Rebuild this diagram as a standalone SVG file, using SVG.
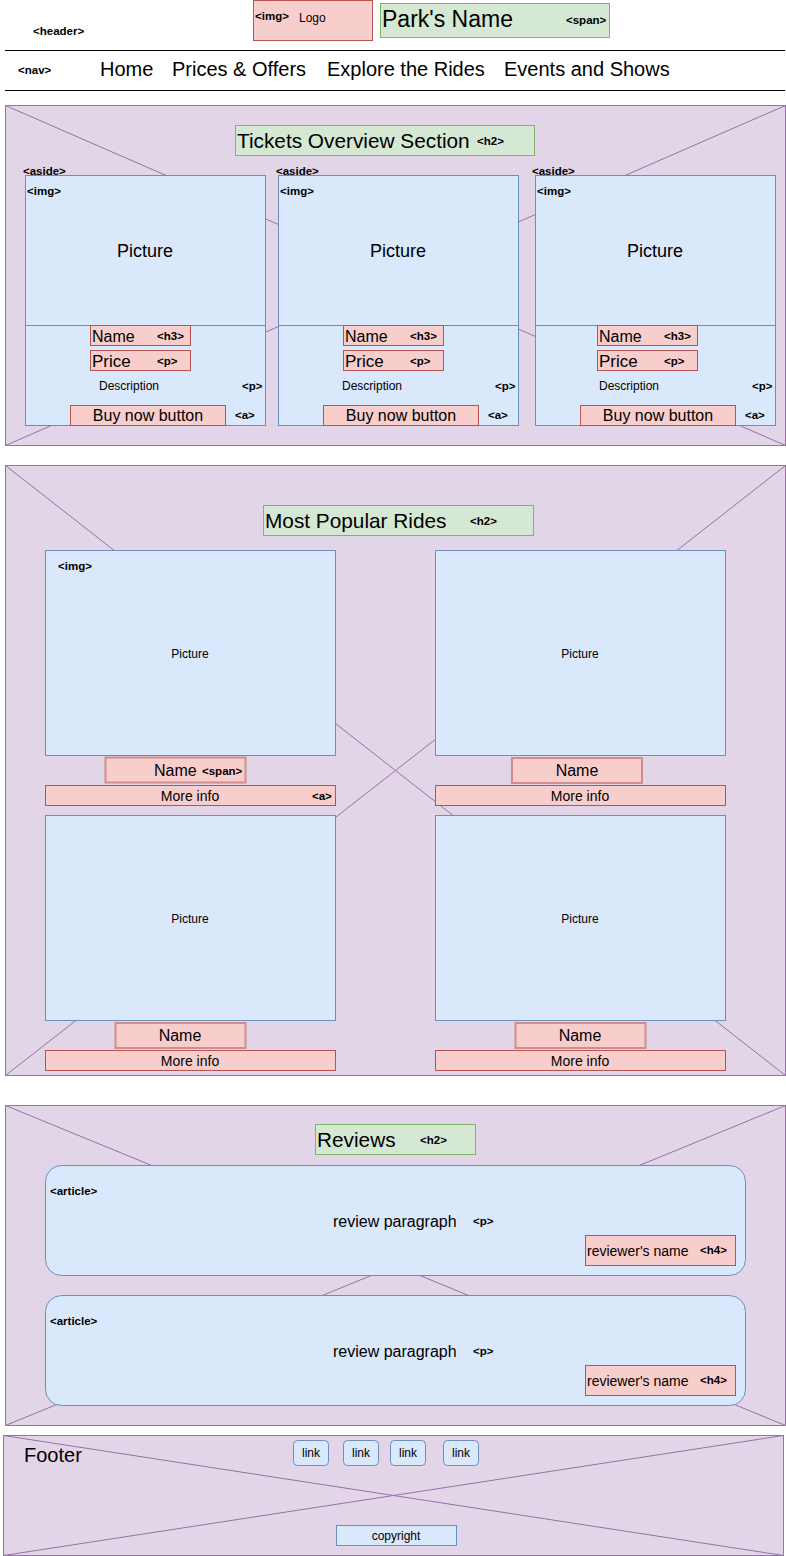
<svg xmlns="http://www.w3.org/2000/svg" width="786" height="1556" viewBox="0 0 786 1556">
<style>
text{font-family:"Liberation Sans",Arial,sans-serif;fill:#000;dominant-baseline:central}
.tag{font-size:11.5px;font-weight:bold}
.sec{fill:#e1d5e7;stroke:#9673a6;stroke-width:1}
.x{stroke:#9673a6;stroke-width:1;fill:none}
.blue{fill:#dae8fc;stroke:#6c8ebf;stroke-width:1}
.red{fill:#f8cecc;stroke:#b85450;stroke-width:1}
.red2{fill:#f8cecc;stroke:#cf8e8b;stroke-width:2}
.green{fill:#d5e8d4;stroke:#82b366;stroke-width:1}
.mid{text-anchor:middle}
.rule{stroke:#000;stroke-width:1}
</style>
<rect width="786" height="1556" fill="#fff"/>

<g id="header">
  <text class="tag" x="33" y="31">&lt;header&gt;</text>
  <g id="logo">
    <rect class="red" x="253.5" y="0.5" width="119" height="40"/>
    <text class="tag" x="255" y="16">&lt;img&gt;</text>
    <text x="299" y="18" font-size="12">Logo</text>
  </g>
  <g id="park-name">
    <rect class="green" x="380.5" y="3.5" width="229" height="34"/>
    <text x="382" y="19" font-size="23">Park's Name</text>
    <text class="tag" x="566" y="20">&lt;span&gt;</text>
  </g>
  <line class="rule" x1="5" y1="50.5" x2="785" y2="50.5"/>
  <line class="rule" x1="5" y1="90.5" x2="785" y2="90.5"/>
</g>

<g id="nav">
  <text class="tag" x="18" y="70">&lt;nav&gt;</text>
  <text x="100" y="69" font-size="20">Home</text>
  <text x="172" y="69" font-size="20">Prices &amp; Offers</text>
  <text x="327" y="69" font-size="20">Explore the Rides</text>
  <text x="504" y="69" font-size="20">Events and Shows</text>
</g>

<g id="tickets-section">
  <rect class="sec" x="5.5" y="105.5" width="780" height="340"/>
  <g class="x"><line x1="5.5" y1="105.5" x2="785.5" y2="445.5"/><line x1="785.5" y1="105.5" x2="5.5" y2="445.5"/></g>
  <g id="tickets-title">
    <rect class="green" x="235.5" y="125.5" width="299" height="30"/>
    <text x="237" y="140" font-size="20.8">Tickets Overview Section</text>
    <text class="tag" x="477" y="141">&lt;h2&gt;</text>
  </g>
  <g id="ticket-card-1">
    <text class="tag" x="23" y="171">&lt;aside&gt;</text>
    <rect class="blue" x="25.5" y="175.5" width="240" height="150"/>
    <rect class="blue" x="25.5" y="325.5" width="240" height="100"/>
    <text class="tag" x="27" y="191">&lt;img&gt;</text>
    <text class="mid" x="145" y="251" font-size="18">Picture</text>
    <rect class="red" x="90.5" y="325.5" width="100" height="20"/>
    <text x="92" y="336" font-size="16">Name</text><text class="tag" x="157" y="336">&lt;h3&gt;</text>
    <rect class="red" x="90.5" y="350.5" width="100" height="20"/>
    <text x="92" y="361" font-size="17">Price</text><text class="tag" x="157" y="361">&lt;p&gt;</text>
    <text x="99" y="386" font-size="12">Description</text><text class="tag" x="242" y="386">&lt;p&gt;</text>
    <rect class="red" x="70.5" y="405.5" width="155" height="20"/>
    <text class="mid" x="148" y="415" font-size="16">Buy now button</text><text class="tag" x="235" y="415">&lt;a&gt;</text>
  </g>
  <g id="ticket-card-2">
    <text class="tag" x="276" y="171">&lt;aside&gt;</text>
    <rect class="blue" x="278.5" y="175.5" width="240" height="150"/>
    <rect class="blue" x="278.5" y="325.5" width="240" height="100"/>
    <text class="tag" x="280" y="191">&lt;img&gt;</text>
    <text class="mid" x="398" y="251" font-size="18">Picture</text>
    <rect class="red" x="343.5" y="325.5" width="100" height="20"/>
    <text x="345" y="336" font-size="16">Name</text><text class="tag" x="410" y="336">&lt;h3&gt;</text>
    <rect class="red" x="343.5" y="350.5" width="100" height="20"/>
    <text x="345" y="361" font-size="17">Price</text><text class="tag" x="410" y="361">&lt;p&gt;</text>
    <text x="342" y="386" font-size="12">Description</text><text class="tag" x="495" y="386">&lt;p&gt;</text>
    <rect class="red" x="323.5" y="405.5" width="155" height="20"/>
    <text class="mid" x="401" y="415" font-size="16">Buy now button</text><text class="tag" x="488" y="415">&lt;a&gt;</text>
  </g>
  <g id="ticket-card-3">
    <text class="tag" x="532" y="171">&lt;aside&gt;</text>
    <rect class="blue" x="535.5" y="175.5" width="240" height="150"/>
    <rect class="blue" x="535.5" y="325.5" width="240" height="100"/>
    <text class="tag" x="537" y="191">&lt;img&gt;</text>
    <text class="mid" x="655" y="251" font-size="18">Picture</text>
    <rect class="red" x="597.5" y="325.5" width="100" height="20"/>
    <text x="599" y="336" font-size="16">Name</text><text class="tag" x="664" y="336">&lt;h3&gt;</text>
    <rect class="red" x="597.5" y="350.5" width="100" height="20"/>
    <text x="599" y="361" font-size="17">Price</text><text class="tag" x="664" y="361">&lt;p&gt;</text>
    <text x="599" y="386" font-size="12">Description</text><text class="tag" x="752" y="386">&lt;p&gt;</text>
    <rect class="red" x="580.5" y="405.5" width="155" height="20"/>
    <text class="mid" x="658" y="415" font-size="16">Buy now button</text><text class="tag" x="745" y="415">&lt;a&gt;</text>
  </g>
</g>

<g id="rides-section">
  <rect class="sec" x="5.5" y="465.5" width="780" height="610"/>
  <g class="x"><line x1="5.5" y1="465.5" x2="785.5" y2="1075.5"/><line x1="785.5" y1="465.5" x2="5.5" y2="1075.5"/></g>
  <g id="rides-title">
    <rect class="green" x="263.5" y="505.5" width="270" height="30"/>
    <text x="265" y="520" font-size="20.8">Most Popular Rides</text>
    <text class="tag" x="470" y="521">&lt;h2&gt;</text>
  </g>
  <g id="ride-1">
    <rect class="blue" x="45.5" y="550.5" width="290" height="205"/>
    <text class="tag" x="58" y="566">&lt;img&gt;</text>
    <text class="mid" x="190" y="654" font-size="12">Picture</text>
    <rect class="red2" x="105.5" y="757.5" width="140" height="25"/>
    <text x="154" y="770" font-size="16">Name</text><text class="tag" x="202" y="771">&lt;span&gt;</text>
    <rect class="red" x="45.5" y="785.5" width="290" height="20"/>
    <text class="mid" x="190" y="796" font-size="14">More info</text><text class="tag" x="312" y="796">&lt;a&gt;</text>
  </g>
  <g id="ride-2">
    <rect class="blue" x="435.5" y="550.5" width="290" height="205"/>
    <text class="mid" x="580" y="654" font-size="12">Picture</text>
    <rect class="red2" x="512" y="758" width="130" height="25"/>
    <text class="mid" x="577" y="770" font-size="16">Name</text>
    <rect class="red" x="435.5" y="785.5" width="290" height="20"/>
    <text class="mid" x="580" y="796" font-size="14">More info</text>
  </g>
  <g id="ride-3">
    <rect class="blue" x="45.5" y="815.5" width="290" height="205"/>
    <text class="mid" x="190" y="919" font-size="12">Picture</text>
    <rect class="red2" x="115.5" y="1023" width="130" height="25"/>
    <text class="mid" x="180" y="1035" font-size="16">Name</text>
    <rect class="red" x="45.5" y="1050.5" width="290" height="20"/>
    <text class="mid" x="190" y="1061" font-size="14">More info</text>
  </g>
  <g id="ride-4">
    <rect class="blue" x="435.5" y="815.5" width="290" height="205"/>
    <text class="mid" x="580" y="919" font-size="12">Picture</text>
    <rect class="red2" x="515.5" y="1023" width="130" height="25"/>
    <text class="mid" x="580" y="1035" font-size="16">Name</text>
    <rect class="red" x="435.5" y="1050.5" width="290" height="20"/>
    <text class="mid" x="580" y="1061" font-size="14">More info</text>
  </g>
</g>

<g id="reviews-section">
  <rect class="sec" x="5.5" y="1105.5" width="780" height="320"/>
  <g class="x"><line x1="5.5" y1="1105.5" x2="785.5" y2="1425.5"/><line x1="785.5" y1="1105.5" x2="5.5" y2="1425.5"/></g>
  <g id="reviews-title">
    <rect class="green" x="315.5" y="1124.5" width="160" height="30"/>
    <text x="317" y="1139" font-size="20.8">Reviews</text>
    <text class="tag" x="420" y="1140">&lt;h2&gt;</text>
  </g>
  <g id="review-1">
    <rect class="blue" x="45.5" y="1165.5" width="700" height="110" rx="16"/>
    <text class="tag" x="50" y="1191">&lt;article&gt;</text>
    <text x="333" y="1221" font-size="16">review paragraph</text><text class="tag" x="473" y="1221">&lt;p&gt;</text>
    <rect class="red" x="585.5" y="1235.5" width="150" height="30"/>
    <text x="587" y="1251" font-size="14">reviewer's name</text><text class="tag" x="700" y="1250">&lt;h4&gt;</text>
  </g>
  <g id="review-2">
    <rect class="blue" x="45.5" y="1295.5" width="700" height="110" rx="16"/>
    <text class="tag" x="50" y="1321">&lt;article&gt;</text>
    <text x="333" y="1351" font-size="16">review paragraph</text><text class="tag" x="473" y="1351">&lt;p&gt;</text>
    <rect class="red" x="585.5" y="1365.5" width="150" height="30"/>
    <text x="587" y="1381" font-size="14">reviewer's name</text><text class="tag" x="700" y="1380">&lt;h4&gt;</text>
  </g>
</g>

<g id="footer">
  <rect class="sec" x="3.5" y="1435.5" width="780" height="120"/>
  <g class="x"><line x1="3.5" y1="1435.5" x2="783.5" y2="1555.5"/><line x1="783.5" y1="1435.5" x2="3.5" y2="1555.5"/></g>
  <text x="24" y="1455" font-size="20">Footer</text>
  <g id="link-1"><rect class="blue" x="293.5" y="1440.5" width="35" height="25" rx="4"/><text class="mid" x="311" y="1453" font-size="12">link</text></g>
  <g id="link-2"><rect class="blue" x="343.5" y="1440.5" width="35" height="25" rx="4"/><text class="mid" x="361" y="1453" font-size="12">link</text></g>
  <g id="link-3"><rect class="blue" x="390.5" y="1440.5" width="35" height="25" rx="4"/><text class="mid" x="408" y="1453" font-size="12">link</text></g>
  <g id="link-4"><rect class="blue" x="443.5" y="1440.5" width="35" height="25" rx="4"/><text class="mid" x="461" y="1453" font-size="12">link</text></g>
  <g id="copyright"><rect class="blue" x="336.5" y="1525.5" width="120" height="20"/><text class="mid" x="396" y="1536" font-size="12">copyright</text></g>
</g>

<g id="connectors"></g>
</svg>
